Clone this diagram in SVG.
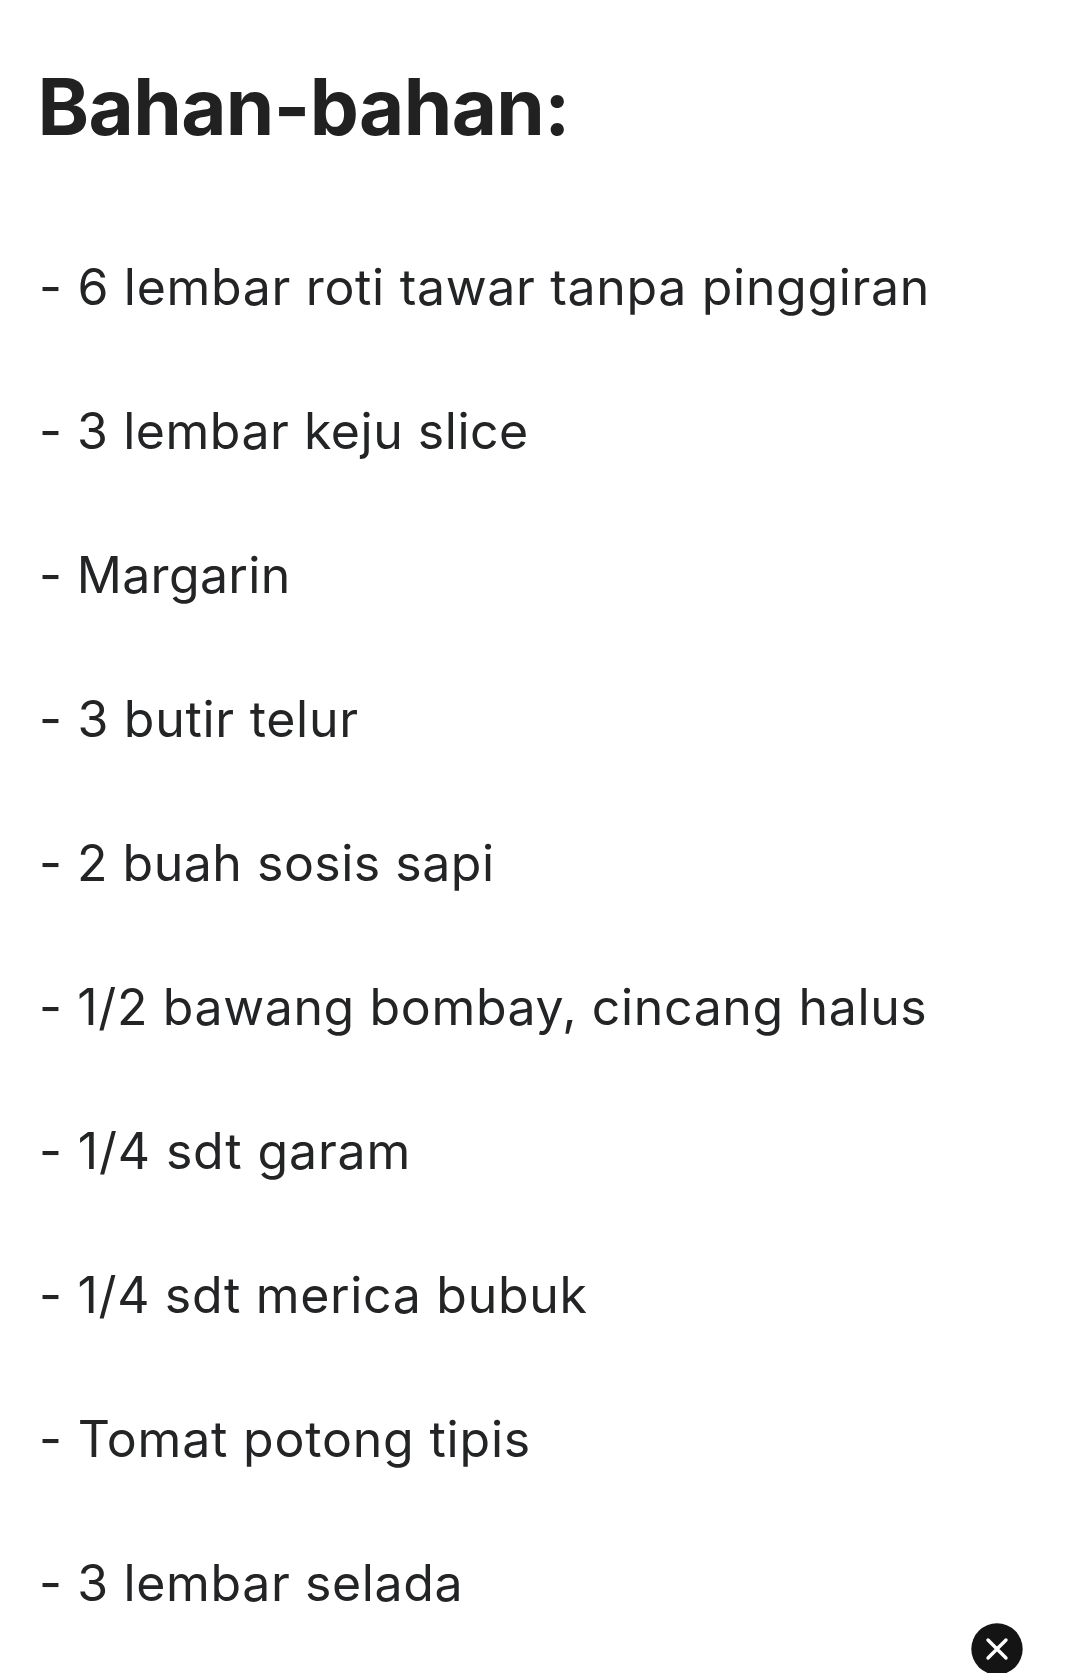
<svg xmlns="http://www.w3.org/2000/svg" width="1080" height="1673" viewBox="0 0 1080 1673">
<style>
text{font-family:Inter,"Noto Sans",sans-serif;fill:#222426}
.t{font-size:78px;font-weight:700;letter-spacing:-.6px;fill:#212121}
.b{font-size:50px;font-weight:400}
</style>
<rect width="1080" height="1673" fill="#fff"/>
<text class="t" x="37.5" y="134.5">Bahan-bahan:</text>
<g id="list">
<text class="b" x="39" y="304.5" letter-spacing=".68">- 6 lembar roti tawar tanpa pinggiran</text>
<text class="b" x="39" y="448.5" letter-spacing=".53">- 3 lembar keju slice</text>
<text class="b" x="39" y="592.5" letter-spacing=".32">- Margarin</text>
<text class="b" x="39" y="736.5" letter-spacing=".71">- 3 butir telur</text>
<text class="b" x="39" y="880.5" letter-spacing=".5">- 2 buah sosis sapi</text>
<text class="b" x="39" y="1024.5" letter-spacing=".63">- 1/2 bawang bombay, cincang halus</text>
<text class="b" x="39" y="1168.5" letter-spacing=".85">- 1/4 sdt garam</text>
<text class="b" x="39" y="1312.5" letter-spacing=".68">- 1/4 sdt merica bubuk</text>
<text class="b" x="39" y="1456.5" letter-spacing=".8">- Tomat potong tipis</text>
<text class="b" x="39" y="1600.5" letter-spacing=".63">- 3 lembar selada</text>
</g>
<g id="close">
<circle cx="997" cy="1649" r="25.7" fill="#141414"/>
<path d="M988 1640L1006 1658M1006 1640L988 1658" stroke="#fff" stroke-width="3.4" stroke-linecap="round" fill="none"/>
</g>
</svg>
